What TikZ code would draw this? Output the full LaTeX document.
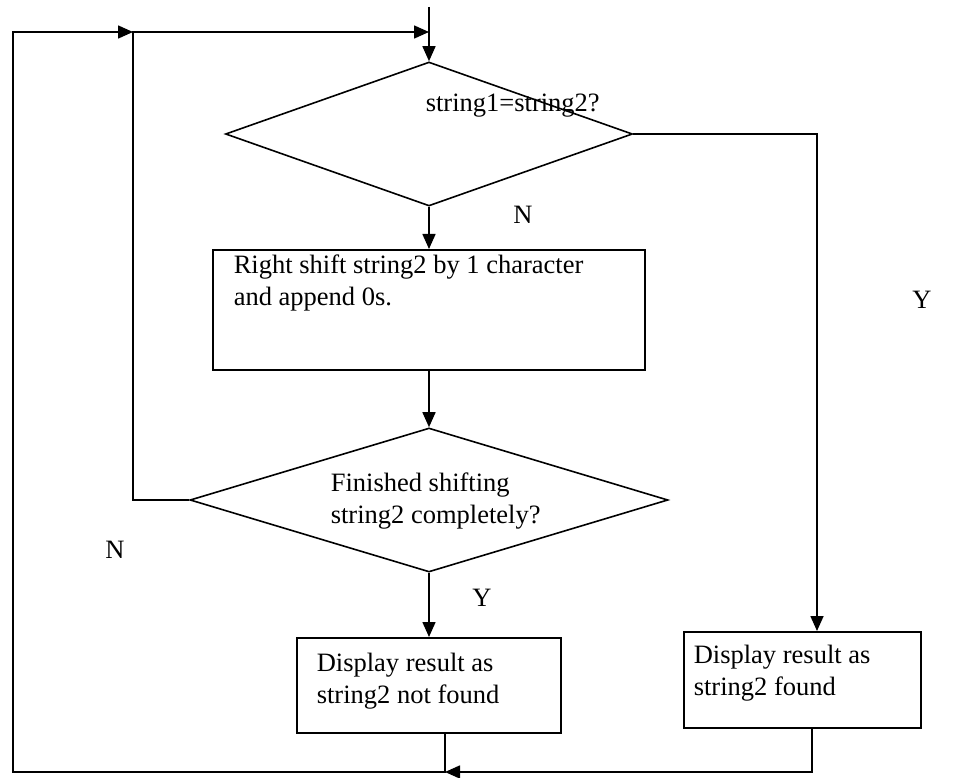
\documentclass[tikz,border=0pt]{standalone}
\usepackage{fontspec}
\setmainfont{Liberation Serif}
\usetikzlibrary{shapes.geometric,arrows.meta}
\begin{document}
\begin{tikzpicture}[x=1pt,y=-1pt,
  line width=1.6pt,
  flow/.style={-{Triangle[length=15pt,width=13pt]}},
  decision/.style={draw,diamond,inner sep=0pt,line width=1.6pt},
  procbox/.style={draw,rectangle,inner sep=0pt,line width=2pt},
  lbl/.style={font=\fontsize{26.5}{32}\selectfont,inner sep=0pt,align=left},
]
\useasboundingbox (0,0) rectangle (970,778);

% decisions
\node[decision,minimum width=407pt,minimum height=144pt] (d1) at (429,134) {};
\node[decision,minimum width=478pt,minimum height=144pt] (d2) at (429,500) {};

% process boxes
\node[procbox,minimum width=432pt,minimum height=120pt] (b2) at (429,310) {};
\node[procbox,minimum width=264pt,minimum height=95pt] (b3) at (429,685.5) {};
\node[procbox,minimum width=237pt,minimum height=96pt] (b4) at (802.5,680) {};

% routing points
\coordinate (start) at (429,7);
\coordinate (top) at (429,32);
\coordinate (inner) at (133,32);
\coordinate (outer) at (13,32);
\coordinate (outerbot) at (13,772);
\coordinate (join) at (445,772);
\coordinate (rcorner) at (817,134);
\coordinate (b4bot) at (812,772);

% main flow
\draw[flow] (start) -- (d1.north);
\draw[flow] (d1.south) -- (b2.north);
\draw[flow] (b2.south) -- (d2.north);
\draw[flow] (d2.south) -- (b3.north);
\draw[flow] (d1.east) -- (rcorner) -- (rcorner |- b4.north);
\draw[flow] (d2.west) -| (inner) -- (top);
\draw[flow] (b4.south -| b4bot) -- (b4bot) -- (join);
\draw[flow] (b3.south -| join) -- (join) -- (outerbot) -- (outer) -- (inner);

% texts
\node[lbl,anchor=west] (t1) at (425,106) {string1=string2?};
\node[lbl,anchor=west] (t2) at (233,283) {Right shift string2 by 1 character\\and append 0s.};
\node[lbl,anchor=west] (t3) at (330,501) {Finished shifting\\string2 completely?};
\node[lbl,anchor=west] (t4) at (316,681) {Display result as\\string2 not found};
\node[lbl,anchor=west] (t5) at (693,673) {Display result as\\string2 found};
\node[lbl] (n1) at (523,215) {N};
\node[lbl] (n2) at (115,550) {N};
\node[lbl] (y1) at (482,598) {Y};
\node[lbl] (y2) at (922,300) {Y};
\end{tikzpicture}
\end{document}
